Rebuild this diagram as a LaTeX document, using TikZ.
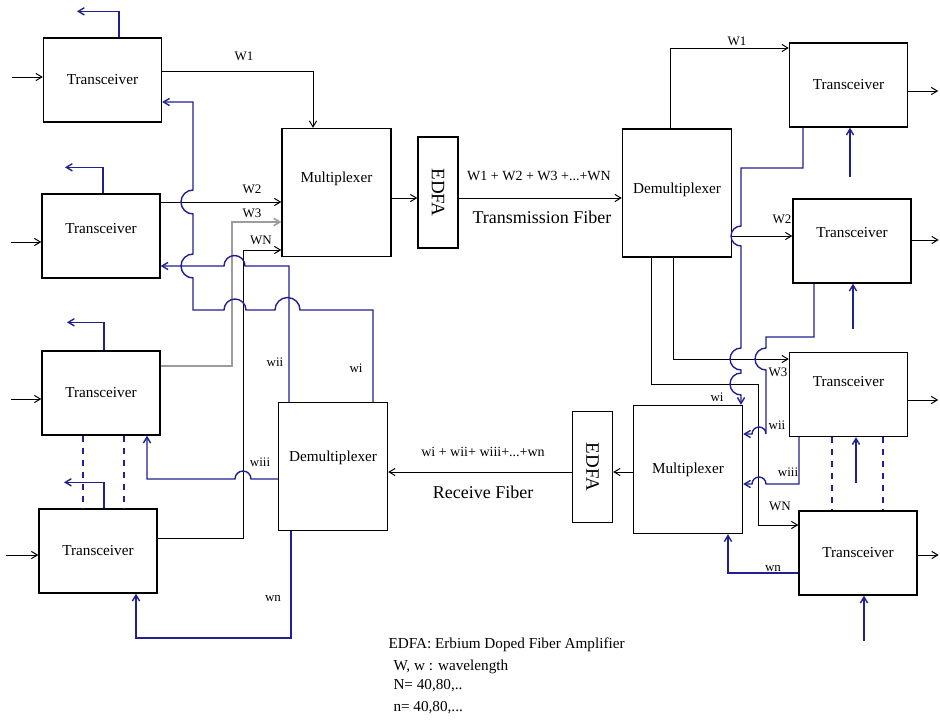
\documentclass[tikz,border=0pt]{standalone}
\usepackage{fontspec}
\setmainfont{Liberation Serif}
\usetikzlibrary{arrows.meta}
\definecolor{wblue}{RGB}{32,32,145}
\definecolor{wgray}{RGB}{155,155,160}

\begin{document}
\begin{tikzpicture}[x=0.5pt,y=-0.5pt,>={Straight Barb[length=3pt,width=3.6pt]},
                    font=\fontsize{7.6}{9}\selectfont,line width=0.5pt]
  \tikzstyle{box}=[draw,line width=0.7pt,inner sep=0pt]
  \tikzstyle{trx}=[box,minimum width=59pt,minimum height=42pt]
  \tikzstyle{plex}=[box,minimum width=54.5pt,minimum height=64pt]
  \tikzstyle{amp}=[box,minimum width=20pt,minimum height=55.5pt]
  \tikzstyle{wire}=[draw=wblue,line width=0.7pt]
  \tikzstyle{lab}=[font=\fontsize{6.5}{7}\selectfont,inner sep=0pt]
  \useasboundingbox (0,0) rectangle (940,724);

  \node[trx]  (T1) at (102.5,80)    {Transceiver};
  \node[trx,text depth=8pt]  (T2) at (101,236)     {Transceiver};
  \node[trx]  (T3) at (101,393)     {Transceiver};
  \node[trx]  (T4) at (98,551)      {Transceiver};
  \node[trx]  (R1) at (848.5,85)    {Transceiver};
  \node[trx,text depth=9pt]  (R2) at (852,241)     {Transceiver};
  \node[trx,text depth=13pt] (R3) at (848.5,394.5) {Transceiver};
  \node[trx]  (R4) at (858,553)     {Transceiver};
  \node[plex,text depth=15pt] (MX) at (336.5,192.5) {Multiplexer};
  \node[plex,text depth=5pt]  (DX) at (677,193)     {Demultiplexer};
  \node[plex] (MR) at (688,469.5)   {Multiplexer};
  \node[plex,text depth=10pt] (DL) at (333,466.5)   {Demultiplexer};
  \node[amp]  (E1) at (438,192.5)   {};
  \node[amp]  (E2) at (592.5,467)   {};
  \node[rotate=-90,font=\fontsize{9.5}{10}\selectfont] (E1t) at (E1) {EDFA};
  \node[rotate=-90,font=\fontsize{9.5}{10}\selectfont] (E2t) at (E2) {EDFA};

  % inputs and outputs of the transceivers
  \draw[<-] (T1.west |- 0,77)  -- ++(-31,0);
  \draw[<-] (T2.west |- 0,242) -- ++(-30,0);
  \draw[<-] (T3.west |- 0,399) -- ++(-30,0);
  \draw[<-] (T4.west |- 0,555) -- ++(-32,0);
  \draw[->] (R1.east |- 0,91)  -- ++(30,0);
  \draw[->] (R2.east |- 0,240) -- ++(27,0);
  \draw[->] (R3.east |- 0,400) -- ++(30,0);
  \draw[->] (R4.east |- 0,555) -- ++(21,0);
  \draw[wire,->] (T1.north -| 119,0) -- ++(0,-26) -- ++(-42,0);
  \draw[wire,->] (T2.north -| 103,0) -- ++(0,-26) -- ++(-38,0);
  \draw[wire,->] (T3.north -| 104,0) -- ++(0,-28) -- ++(-37,0);
  \draw[wire,->] (T4.north -| 104,0) -- ++(0,-26) -- ++(-40,0);
  \draw[wire,<-] (R1.south -| 850,0) -- ++(0,49);
  \draw[wire,<-] (R2.south -| 853,0) -- ++(0,45);
  \draw[wire,<-] (R3.south -| 856,0) -- ++(0,46);
  \draw[wire,<-] (R4.south -| 864,0) -- ++(0,45);
  \draw[wire,dashed] (T3.south -| 83,0)  -- (T4.north -| 83,0);
  \draw[wire,dashed] (T3.south -| 124,0) -- (T4.north -| 124,0);
  \draw[wire,dashed] (R3.south -| 832,0) -- (R4.north -| 832,0);
  \draw[wire,dashed] (R3.south -| 883,0) -- (R4.north -| 883,0);

  % transmit side
  \draw[->] (T1.east |- 0,71) -| (MX.north -| 313,0);
  \draw[->] (T2.east |- 0,202) -- (MX.west |- 0,202);
  \draw[draw=wgray,line width=0.8pt,->] (T3.east |- 0,366) -- (232,366) |- (MX.west |- 0,222);
  \draw[->] (T4.east |- 0,538) -- (243,538) |- (MX.west |- 0,250);
  \draw[->] (MX.east |- 0,198) -- (E1.west |- 0,198);
  \draw[->] (E1.east |- 0,198) -- (DX.west |- 0,198);
  \draw[->] (DX.north -| 670,0) |- (R1.west |- 0,48);
  \draw[->] (DX.east |- 0,236) -- (R2.west |- 0,236);
  \draw[->] (DX.south -| 673,0) |- (R3.west |- 0,359);
  \draw[->] (DX.south -| 651,0) -- (651,384) -- (758,384) |- (R4.west |- 0,525);

  % receive side
  \draw[->] (MR.west |- 0,472) -- (E2.east |- 0,472);
  \draw[->] (E2.west |- 0,472) -- (DL.east |- 0,472);
  \draw[wire,->] (DL.north -| 373,0) -- (373,310) -- (300,310)
        arc[start angle=0,end angle=-180,radius=12.5] -- (246,310)
        arc[start angle=0,end angle=-180,radius=11] -- (193,310) -- (193,278)
        arc[start angle=90,end angle=270,radius=12] -- (193,214)
        arc[start angle=90,end angle=270,radius=12] -- (193,102) -- (T1.east |- 0,102);
  \draw[wire,->] (DL.north -| 289,0) -- (289,266) -- (245,266)
        arc[start angle=0,end angle=-180,radius=10.5] -- (T2.east |- 0,266);
  \draw[wire,->] (DL.west |- 0,479) -- (251,479)
        arc[start angle=0,end angle=-180,radius=8] -- (147,479) -- (T3.south -| 147,0);
  \draw[wire,->] (DL.south -| 291,0) |- (136,638) -- (T4.south -| 136,0);
  \draw[wire,->] (R1.south -| 803,0) -- (803,168) -- (741,168) -- (741,226)
        arc[start angle=-90,end angle=-270,radius=10] -- (741,348)
        arc[start angle=-90,end angle=-270,radius=11] -- (741,373)
        arc[start angle=-90,end angle=-270,radius=11] -- (MR.north -| 741,0);
  \draw[wire,->] (R2.south -| 814,0) -- (814,337) -- (766,337) -- (766,348)
        arc[start angle=-90,end angle=-270,radius=11] -- (766,434)
        arc[start angle=0,end angle=-180,radius=7] -- (MR.east |- 0,434);
  \draw[wire,->] (R3.south -| 799,0) -- (799,484) -- (766,484)
        arc[start angle=0,end angle=-180,radius=7] -- (MR.east |- 0,484);
  \draw[wire,->] (R4.west |- 0,573) -| (MR.south -| 728,0);

  % wavelength labels
  \node[lab] (a1) at (244,56)  {W1};
  \node[lab] (a2) at (252,189) {W2};
  \node[lab] (a3) at (252,213) {W3};
  \node[lab] (aN) at (261,240) {WN};
  \node[lab] (b1) at (356,368) {wi};
  \node[lab] (b2) at (275,362) {wii};
  \node[lab] (b3) at (260,462) {wiii};
  \node[lab] (bn) at (273,598) {wn};
  \node[lab] (c1) at (737,41)  {W1};
  \node[lab] (c2) at (782,219) {W2};
  \node[lab] (c3) at (778,372) {W3};
  \node[lab] (cN) at (780,506) {WN};
  \node[lab] (d1) at (717,397) {wi};
  \node[lab] (d2) at (777,425) {wii};
  \node[lab] (d3) at (788,472) {wiii};
  \node[lab] (dn) at (773,568) {wn};
  \node[font=\fontsize{7}{8}\selectfont] (tx) at (539,176) {W1 + W2 + W3 +...+WN};
  \node[font=\fontsize{9}{10}\selectfont] (tf) at (542,217) {Transmission Fiber};
  \node[font=\fontsize{7}{8}\selectfont] (rx) at (483,452) {wi + wii+ wiii+...+wn};
  \node[font=\fontsize{9}{10}\selectfont] (rf) at (483,492) {Receive Fiber};

  % legend
  \node[anchor=west,inner sep=0pt] (k1) at (388,645) {EDFA: Erbium Doped Fiber Amplifier};
  \node[anchor=west,inner sep=0pt] (k2) at (393,667) {W, w : wavelength};
  \node[anchor=west,inner sep=0pt] (k3) at (393,686) {N= 40,80,..};
  \node[anchor=west,inner sep=0pt] (k4) at (393,708) {n= 40,80,...};
\end{tikzpicture}
\end{document}
